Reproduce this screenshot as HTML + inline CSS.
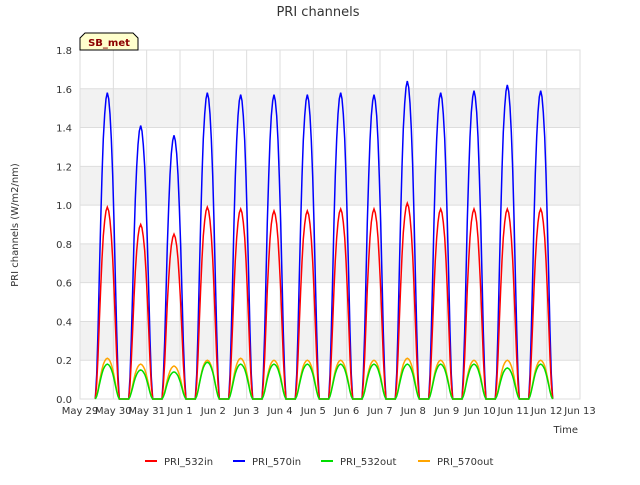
<!DOCTYPE html>
<html><head><meta charset="utf-8"><style>
body{margin:0;background:#fff;font-family:"Liberation Sans","DejaVu Sans",sans-serif;}
svg text{font-family:"DejaVu Sans","Liberation Sans",sans-serif;}
</style></head><body>
<svg id="c" width="640" height="480">
<rect width="640" height="480" fill="#fff"/>
<text x="318" y="16" text-anchor="middle" font-size="13" fill="#333">PRI channels</text>
<g id="plot"></g>
<text x="18" y="225" font-size="10" fill="#333" text-anchor="middle" transform="rotate(-90 18 225)">PRI channels (W/m2/nm)</text>
<text x="578" y="433" font-size="10" fill="#333" text-anchor="end">Time</text>
<g>
<path d="M80,50 L80,38 L85,33 L133,33 L138,38 L138,50 Z" fill="#ffffcc" stroke="#000"/>
<text x="109" y="46" font-size="10" font-weight="bold" fill="#8b0000" text-anchor="middle">SB_met</text>
</g>
<g id="legend"></g>
</svg>
<script>
const dayLabels=["May 29","May 30","May 31","Jun 1","Jun 2","Jun 3","Jun 4","Jun 5","Jun 6","Jun 7","Jun 8","Jun 9","Jun 10","Jun 11","Jun 12","Jun 13"];
const yTicks=[0,0.2,0.4,0.6,0.8,1.0,1.2,1.4,1.6,1.8];
const seriesNames=["PRI_532in","PRI_570in","PRI_532out","PRI_570out"];
const peak532in=[0.99,0.90,0.85,0.99,0.98,0.97,0.97,0.98,0.98,1.01,0.98,0.98,0.98,0.98];
const peak570in=[1.58,1.41,1.36,1.58,1.57,1.57,1.57,1.58,1.57,1.64,1.58,1.59,1.62,1.59];
const peak532out=[0.18,0.15,0.14,0.19,0.18,0.18,0.18,0.18,0.18,0.18,0.18,0.18,0.16,0.18];
const peak570out=[0.21,0.18,0.17,0.20,0.21,0.20,0.20,0.20,0.20,0.21,0.20,0.20,0.20,0.20];
const shape=[0,0.08,0.22,0.4,0.58,0.73,0.85,0.93,0.98,1.0,0.98,0.93,0.85,0.73,0.58,0.4,0.22,0.08,0];
const colors=["#ff0000","#0000ff","#00dd00","#ffa500"];
const X0=80,X1=580,Y0=399,Y1=50;
const xs=d=>X0+(X1-X0)*d/15, ys=v=>Y0-(Y0-Y1)*v/1.8;
const ns="http://www.w3.org/2000/svg";
const plot=document.getElementById('plot');
function mk(t,a,p){const e=document.createElementNS(ns,t);for(const k in a)e.setAttribute(k,a[k]);(p||plot).appendChild(e);return e;}
const bg=mk('rect',{x:X0,y:Y1,width:X1-X0,height:Y0-Y1,fill:'#fff',stroke:'#ddd'});

for(let i=0;i<yTicks.length-1;i++){
 if(i%2==1){const r=mk('rect',{x:X0,y:ys(yTicks[i+1]),width:X1-X0,height:ys(yTicks[i])-ys(yTicks[i+1]),fill:'#f2f2f2'});
 }
}
yTicks.forEach(v=>{const l=mk('line',{x1:X0,x2:X1,y1:ys(v),y2:ys(v),stroke:'#ddd'});
 
 const t=mk('text',{x:X0-8,y:ys(v)+4,'font-size':10,'text-anchor':'end',fill:'#333'});t.textContent=v.toFixed(1);
 });
dayLabels.forEach((d,i)=>{const l=mk('line',{x1:xs(i),x2:xs(i),y1:Y1,y2:Y0,stroke:'#ddd'});
 
 const t=mk('text',{x:xs(i),y:Y0+15,'font-size':10,'text-anchor':'middle',fill:'#333'});t.textContent=d;
 });
const peaks=[peak532in,peak570in,peak532out,peak570out];
[1,0,3,2].forEach(s=>{let pts=[];
 peaks[s].forEach((p,d)=>{const c=d+0.82;shape.forEach((f,k)=>{const t=c+(k-(shape.length-1)/2)*0.04;pts.push(xs(t).toFixed(1)+','+ys(p*f).toFixed(1));});});
 const pl=mk('polyline',{points:pts.join(' '),fill:'none',stroke:colors[s],'stroke-width':1.5});
 });
const lg=document.getElementById('legend');const lx=[145,233,321,418];
seriesNames.forEach((n,i)=>{const g=mk('g',{},lg);
 
 mk('line',{x1:lx[i],x2:lx[i]+12,y1:461,y2:461,stroke:colors[i],'stroke-width':2},g);
 const t=mk('text',{x:lx[i]+19,y:465,'font-size':10,fill:'#333'},g);t.textContent=n;});
</script>
</body></html>
